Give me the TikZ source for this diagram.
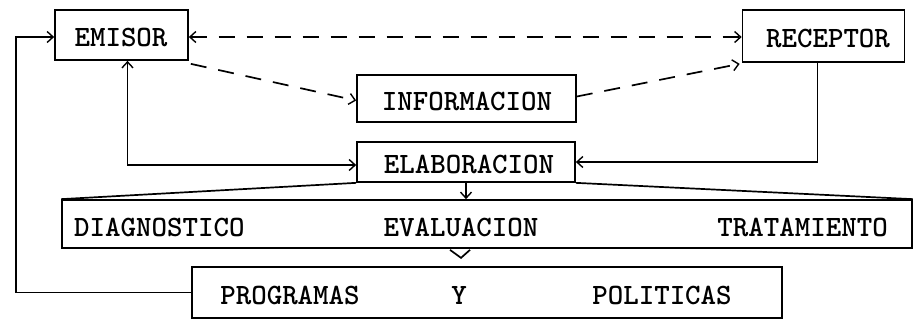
\documentclass[tikz,border=0pt]{standalone}
\usepackage{fontspec}
\usetikzlibrary{arrows.meta}
\tikzset{
  box/.style={draw, line width=1.7pt, rectangle, inner sep=0pt},
  lbl/.style={inner sep=0pt, font=\ttfamily\bfseries\fontsize{29.5}{29.5}\selectfont},
  conn/.style={line width=1.7pt},
  dsh/.style={conn, dash pattern=on 16pt off 12pt},
  tip/.style={-{Straight Barb[length=6pt,width=11pt,line width=1.4pt]}},
  btip/.style={{Straight Barb[length=6pt,width=11pt,line width=1.4pt]}-{Straight Barb[length=6pt,width=11pt,line width=1.4pt]}}
}
\begin{document}
\begin{tikzpicture}[x=1pt,y=-1pt]
\useasboundingbox (0,0) rectangle (917,330);
% boxes
\node[box, minimum width=133pt, minimum height=50pt] (emisor) at (121.5,35) {};
\node[lbl] (emisorT) at (121,37) {EMISOR};
\node[box, minimum width=162pt, minimum height=52pt] (receptor) at (823.5,36) {};
\node[lbl] (receptorT) at (828,38) {RECEPTOR};
\node[box, minimum width=219pt, minimum height=47pt] (info) at (466.5,98.5) {};
\node[lbl] (infoT) at (467,101) {INFORMACION};
\node[box, minimum width=218pt, minimum height=40pt] (elab) at (466,162) {};
\node[lbl] (elabT) at (469,164) {ELABORACION};
\node[box, minimum width=850pt, minimum height=48pt] (big) at (487,224) {};
\node[lbl, anchor=west] (diag) at (74,227) {DIAGNOSTICO};
\node[lbl] (eval) at (461,227) {EVALUACION};
\node[lbl, anchor=east] (trat) at (888,227) {TRATAMIENTO};
\node[box, minimum width=590pt, minimum height=51pt] (prog) at (487,292.5) {};
\node[lbl] (progT) at (290,295) {PROGRAMAS};
\node[lbl] (yT) at (459,295) {Y};
\node[lbl] (polT) at (662,295) {POLITICAS};
% dashed connectors
\draw[dsh, btip] ([yshift=-2pt]emisor.east) -- ([yshift=-2pt]emisor.east -| receptor.west);
\draw[dsh, tip] ([xshift=2pt,yshift=-3pt]emisor.south east) -- ([yshift=-2pt]info.west);
\draw[dsh, tip] ([yshift=2pt]info.east) -- ([xshift=-2pt,yshift=-1pt]receptor.south west);
% solid connectors
\draw[conn, btip] ([xshift=6pt]emisor.south) |- ([yshift=-3pt]elab.west);
\draw[conn, tip] ([xshift=-6pt]receptor.south) |- (elab.east);
\draw[conn] (elab.south west) -- (big.north west);
\draw[conn] (elab.south east) -- (big.north east);
\draw[conn, tip] (elab.south) -- (elab.south |- big.north);
\draw[conn] ([xshift=-11pt,yshift=-1pt]eval.south |- big.south) -- ([yshift=-9pt]eval.south |- big.south) -- ([xshift=9pt,yshift=-1pt]eval.south |- big.south);
\draw[conn, tip] (prog.west) -- ++(-175,0) |- ([yshift=-2pt]emisor.west);
\end{tikzpicture}
\end{document}
